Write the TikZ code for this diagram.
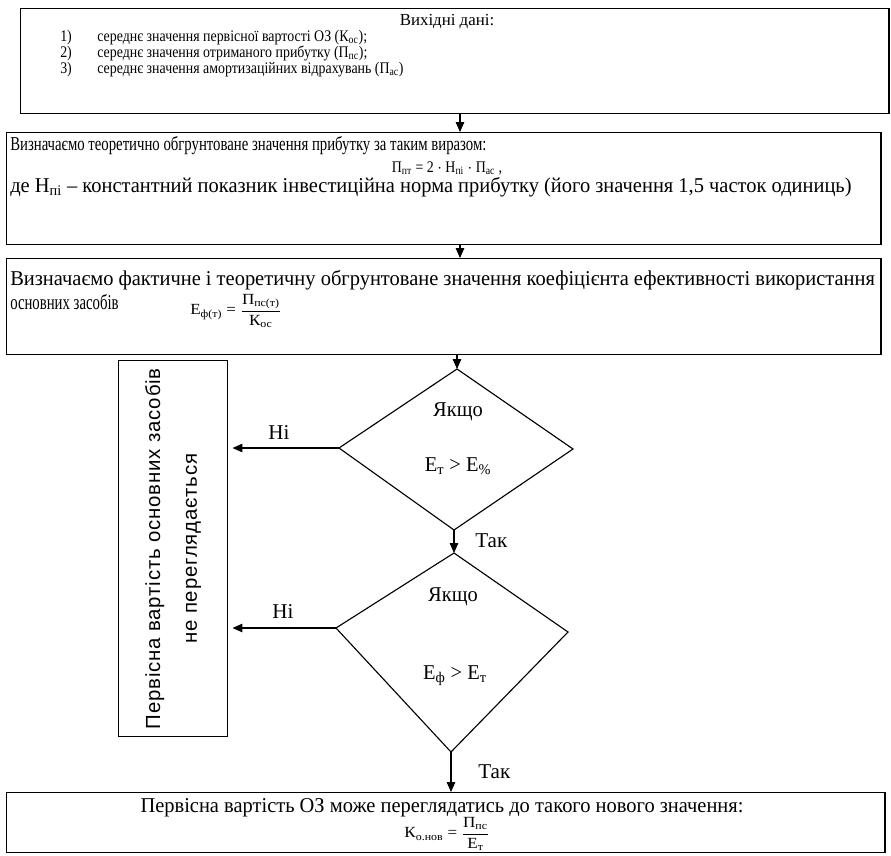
\documentclass[tikz,border=0pt]{standalone}
\usepackage{amsmath}
\usepackage{fontspec}
\setmainfont{Liberation Serif}
\newfontfamily\narrowserif[FakeStretch=0.86]{Liberation Serif}
\newfontfamily\thinserif[FakeStretch=0.7]{Liberation Serif}
\newfontfamily\calcserif[FakeStretch=0.75]{Liberation Serif}
\newfontfamily\wideserif[FakeStretch=0.97]{Liberation Serif}
\newfontfamily\formserif[FakeStretch=1.1]{Liberation Serif}
\newfontfamily\sidesans[LetterSpace=4]{Liberation Sans}
\usetikzlibrary{arrows.meta,positioning,calc}
\newcommand{\lowtx}[1]{\textsubscript{#1}}
\tikzset{
  frame/.style={draw, line width=0.9pt, inner sep=0pt, anchor=north west},
  flowarr/.style={-{Triangle[length=7pt,width=6pt]}, line width=0.8pt},
  rhomb/.style={draw, line width=0.8pt},
  headtxt/.style={font=\fontsize{12}{14}\selectfont\rmfamily, inner sep=0pt},
  listtxt/.style={font=\fontsize{11.5}{13}\selectfont\narrowserif, inner sep=0pt},
  calctxt/.style={font=\fontsize{14}{16}\selectfont\calcserif, inner sep=0pt},
  thintxt/.style={font=\fontsize{15}{17}\selectfont\thinserif, inner sep=0pt},
  bodytxt/.style={font=\fontsize{15}{17}\selectfont\wideserif, inner sep=0pt},
  formtxt/.style={font=\fontsize{11}{13}\selectfont\formserif, inner sep=0pt},
  answer/.style={font=\fontsize{15}{17}\selectfont\rmfamily, inner sep=0pt},
  sidetxt/.style={font=\fontsize{14.5}{26}\selectfont\sidesans, inner sep=0pt},
}

\begin{document}
\begin{tikzpicture}[x=0.025cm, y=-0.025cm]
  \useasboundingbox (0,0) rectangle (891,855);
  % blocks
  \node[frame, minimum width=21.7cm, minimum height=2.625cm] (input) at (20,8) {};
  \node[frame, minimum width=21.85cm, minimum height=2.8cm] (profit) at (6,132) {};
  \node[frame, minimum width=21.85cm, minimum height=2.4cm] (ratio) at (6,258) {};
  \node[frame, minimum width=21.95cm, minimum height=1.5cm] (result) at (6,792) {};
  \node[frame, minimum width=2.725cm, minimum height=9.4cm] (keep) at (118,360) {};

  % input data
  \node[headtxt, anchor=base] (inhead) at (447,25) {Вихідні дані:};
  \foreach \n/\yy/\txt in {1/41/{середнє значення первісної вартості ОЗ (К\lowtx{ос});},
                           2/57/{середнє значення отриманого прибутку (П\lowtx{пс});},
                           3/73/{середнє значення амортизаційних відрахувань (П\lowtx{ас})}}{
    \node[listtxt, anchor=base west] (num\n) at (60,\yy) {\n)};
    \node[listtxt, anchor=base west] (item\n) at (97,\yy) {\txt};
  }

  % theoretical profit
  \node[calctxt, anchor=base west] (calc1) at (10,150) {Визначаємо теоретично обгрунтоване значення прибутку за таким виразом:};
  \node[listtxt, anchor=base] (calc2) at (447,172) {П\lowtx{пт} = 2 $\cdot$ Н\lowtx{пі} $\cdot$ П\lowtx{ас} ,};
  \node[bodytxt, anchor=base west] (calc3) at (10,192) {де Н\lowtx{пі} – константний показник інвестиційна норма прибутку (його значення 1,5 часток одиниць)};

  % efficiency ratio
  \node[bodytxt, anchor=base west] (eff1) at (10,285) {Визначаємо фактичне і теоретичну обгрунтоване значення коефіцієнта ефективності використання};
  \node[thintxt, anchor=base west] (eff2) at (10,309) {основних засобів};
  \node[formtxt, anchor=west] (eff3) at (190,311) {Е\lowtx{ф(т)} = $\dfrac{\text{П\lowtx{пс(т)}}}{\text{К\lowtx{ос}}}$};

  % decisions
  \coordinate (c1top) at (457,369);
  \coordinate (c1left) at (339,448);
  \coordinate (c1right) at (573,449);
  \coordinate (c1bot) at (454,530);
  \draw[rhomb] (c1top) -- (c1right) -- (c1bot) -- (c1left) -- cycle;
  \node[bodytxt] (c1if) at (458,412) {Якщо};
  \node[bodytxt] (c1cond) at (458,466) {Е\lowtx{т} > Е\lowtx{\%}};

  \coordinate (c2top) at (454,553);
  \coordinate (c2left) at (336,628);
  \coordinate (c2right) at (568,632);
  \coordinate (c2bot) at (451,752);
  \draw[rhomb] (c2top) -- (c2right) -- (c2bot) -- (c2left) -- cycle;
  \node[bodytxt] (c2if) at (453,597) {Якщо};
  \node[bodytxt] (c2cond) at (455,676) {Е\lowtx{ф} > Е\lowtx{т}};

  % side block text
  \node[sidetxt, rotate=90, align=center] (keeptxt) at (keep.center) {Первісна вартість основних засобів\\не переглядається};

  % result
  \node[bodytxt, anchor=base] (new1) at (442,812) {Первісна вартість ОЗ може переглядатись до такого нового значення:};
  \node[formtxt, anchor=center] (new2) at (447,834) {К\lowtx{о.нов} = $\dfrac{\text{П\lowtx{пс}}}{\text{Е\lowtx{т}}}$};

  % connectors
  \coordinate (axis) at (460,0);
  \draw[flowarr] (input.south -| axis) -- (profit.north -| axis);
  \draw[flowarr] (profit.south -| axis) -- (ratio.north -| axis);
  \draw[flowarr] (ratio.south -| c1top) -- (c1top);
  \draw[flowarr, shorten >=3pt] (c1left) -- (c1left -| keep.east);
  \node[answer] (no1) at (279,433) {Ні};
  \draw[flowarr] (c1bot) -- (c2top);
  \node[answer, anchor=west] (yes1) at (475,541) {Так};
  \draw[flowarr, shorten >=3pt] (c2left) -- (c2left -| keep.east);
  \node[answer] (no2) at (283,612) {Ні};
  \draw[flowarr] (c2bot) -- (c2bot |- result.north);
  \node[answer, anchor=west] (yes2) at (478,772) {Так};
\end{tikzpicture}
\end{document}
